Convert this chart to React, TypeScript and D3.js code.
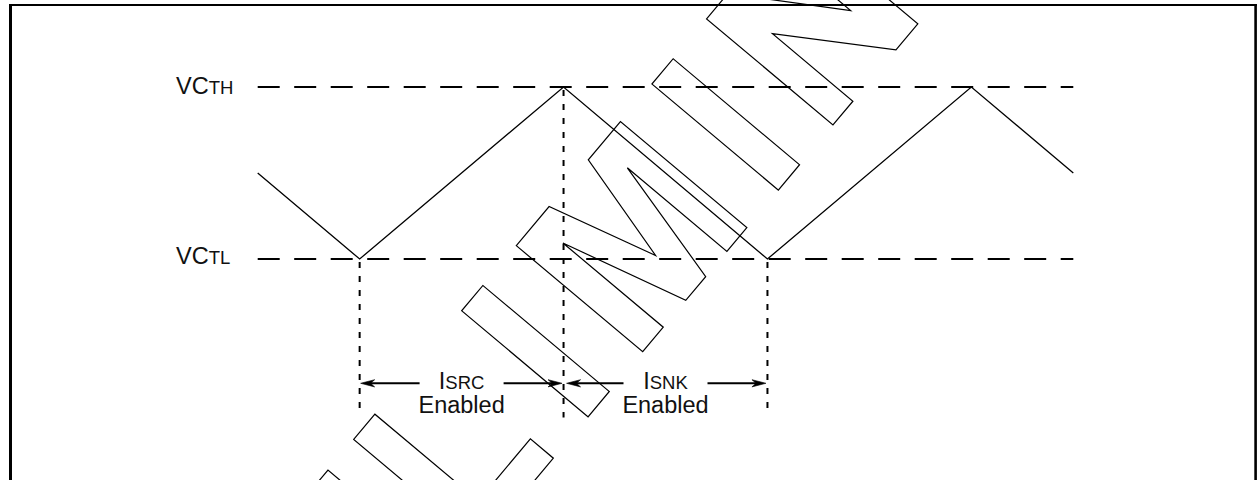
import React from 'react';
import * as d3 from 'd3';

const W = 1258;
const H = 480;

// Waveform (capacitor voltage, normalised: 0 = VCTL, 1 = VCTH)
const timePoints = [0, 0.5, 1.5, 2.5, 3.5, 4];
const capVoltage = [0.5, 0, 1, 0, 1, 0.5];

// Threshold lines
const thresholdLevels = [1, 0];
const thresholdMain = ['VC', 'VC'];
const thresholdSub = ['TH', 'TL'];

// Switching instants and phase annotations
const switchTimes = [0.5, 1.5, 2.5];
const phaseMain = ['I', 'I'];
const phaseSub = ['SRC', 'SNK'];
const phaseNote = ['Enabled', 'Enabled'];

// Watermark
const watermarkText = 'PRELIMINARY';
const watermarkIndexOfM = 5;

// Block outline font for the watermark (x, height) in glyph units; cap height 165
const glyphs: Record<string, { adv: number; rings: number[][][] }> = {
  P: {
    adv: 175,
    rings: [
      [[0, 0], [33, 0], [33, 65], [95, 65], [125, 95], [125, 135], [95, 165], [0, 165]],
      [[33, 95], [85, 95], [92, 102], [92, 128], [85, 135], [33, 135]],
    ],
  },
  R: {
    adv: 180,
    rings: [
      [[0, 0], [33, 0], [33, 65], [70, 65], [100, 0], [135, 0], [103, 70], [125, 95], [125, 135], [95, 165], [0, 165]],
      [[33, 95], [85, 95], [92, 102], [92, 128], [85, 135], [33, 135]],
    ],
  },
  E: {
    adv: 152,
    rings: [
      [[0, 0], [112, 0], [112, 30], [33, 30], [33, 68], [100, 68], [100, 98], [33, 98], [33, 135], [112, 135], [112, 165], [0, 165]],
    ],
  },
  L: {
    adv: 168,
    rings: [[[0, 0], [114, 0], [114, 30], [33, 30], [33, 165], [0, 165]]],
  },
  I: {
    adv: 85,
    rings: [[[0, 0], [33, 0], [33, 165], [0, 165]]],
  },
  M: {
    adv: 211,
    rings: [
      [[0, 165], [0, 0], [32, 0], [32, 131], [67, 0], [98, 0], [131, 130], [131, 0], [162, 0], [162, 165], [112, 165], [82, 52], [51, 165]],
    ],
  },
  N: {
    adv: 180,
    rings: [[[0, 0], [31, 0], [31, 105], [98, 0], [132, 0], [132, 165], [99, 165], [99, 60], [33, 165], [0, 165]]],
  },
  A: {
    adv: 210,
    rings: [
      [[0, 0], [35, 0], [47, 35], [113, 35], [125, 0], [160, 0], [100, 165], [60, 165]],
      [[57, 65], [103, 65], [80, 130]],
    ],
  },
  Y: {
    adv: 160,
    rings: [[[0, 165], [38, 165], [75, 100], [112, 165], [150, 165], [92, 65], [92, 0], [58, 0], [58, 65]]],
  },
};

const FONT = '"Liberation Sans", Arial, Helvetica, sans-serif';

function Arrow({ from, to, y }: { from: number; to: number; y: number }) {
  const dir = Math.sign(to - from);
  const headLen = 14;
  const half = 3.6;
  const base = to - dir * headLen;
  return (
    <g>
      <line x1={from} y1={y} x2={to - dir * 8} y2={y} stroke="#000" strokeWidth={2} />
      <path
        d={`M${to},${y} L${base},${y - half} L${to - dir * 10},${y} L${base},${y + half} Z`}
        fill="#000"
        stroke="#000"
        strokeWidth={0.6}
      />
    </g>
  );
}

export default function App() {
  const x = d3.scaleLinear().domain([0, 4]).range([257.7, 1073.3]);
  const y = d3.scaleLinear().domain([0, 1]).range([259, 87]);

  const line = d3
    .line<number>()
    .x((_, i) => x(timePoints[i]))
    .y((d) => y(d));

  const arrowY = 383.3;
  const labelHalfGap = 42;

  // Watermark layout
  const chars = watermarkText.split('');
  const starts: number[] = [];
  let acc = 0;
  chars.forEach((c, i) => {
    starts.push(acc);
    acc += glyphs[c].adv;
  });
  const offsetM = starts[watermarkIndexOfM];
  const ringPath = (rings: number[][][]) =>
    rings.map((r) => 'M' + r.map(([px, pt]) => `${px},${-pt}`).join('L') + 'Z').join('');

  return (
    <svg
      width={W}
      height={H}
      viewBox={`0 0 ${W} ${H}`}
      style={{ position: 'absolute', left: 0, top: 0, display: 'block', background: '#fff' }}
    >
      <rect x={0} y={0} width={W} height={H} fill="#fff" />

      {/* Frame (open at the bottom) */}
      <line x1={10.5} y1={4} x2={10.5} y2={H + 5} stroke="#000" strokeWidth={3} />
      <line x1={9} y1={5} x2={1256.8} y2={5} stroke="#000" strokeWidth={2} />
      <line x1={1255.6} y1={4} x2={1255.6} y2={H + 5} stroke="#000" strokeWidth={2.6} />

      {/* Threshold lines */}
      {thresholdLevels.map((lv, i) => (
        <g key={'th' + i}>
          <line
            x1={x(0)}
            x2={x(4)}
            y1={y(lv)}
            y2={y(lv)}
            stroke="#000"
            strokeWidth={2}
            strokeDasharray="22 14.5"
          />
          <text
            x={176}
            y={y(lv) + (lv === 1 ? 7.3 : 5)}
            fontFamily={FONT}
            fill="#111"
          >
            <tspan fontSize={23.5}>{thresholdMain[i]}</tspan>
            <tspan fontSize={18.5}>{thresholdSub[i]}</tspan>
          </text>
        </g>
      ))}

      {/* Vertical dotted markers */}
      {switchTimes.map((t, i) => {
        const v = capVoltage[timePoints.indexOf(t)];
        return (
          <line
            key={'sw' + i}
            x1={x(t)}
            x2={x(t)}
            y1={y(v)}
            y2={i === 1 ? 417.5 : 408.5}
            stroke="#000"
            strokeWidth={2}
            strokeDasharray="6 8"
            strokeDashoffset={-3}
          />
        );
      })}

      {/* Waveform */}
      <path d={line(capVoltage) || ''} fill="none" stroke="#000" strokeWidth={1.3} />

      {/* Phase annotations */}
      {phaseMain.map((m, i) => {
        const a = x(switchTimes[i]);
        const b = x(switchTimes[i + 1]);
        const c = (a + b) / 2;
        return (
          <g key={'ph' + i}>
            <Arrow from={c - labelHalfGap} to={a + (i === 0 ? 1 : 3)} y={arrowY} />
            <Arrow from={c + labelHalfGap} to={b - (i === 0 ? 1.5 : 1.5)} y={arrowY} />
            <text x={c} y={388.5} textAnchor="middle" fontFamily={FONT} fill="#111">
              <tspan fontSize={23.5}>{m}</tspan>
              <tspan fontSize={18.5}>{phaseSub[i]}</tspan>
            </text>
            <text x={c} y={412.5} textAnchor="middle" fontFamily={FONT} fontSize={23.5} fill="#111">
              {phaseNote[i]}
            </text>
          </g>
        );
      })}

      {/* Watermark */}
      <g transform="translate(642.7,351.7) rotate(-50)" fill="none" stroke="#000" strokeWidth={1.2}>
        {chars.map((c, i) => (
          <path key={'wm' + i} transform={`translate(${starts[i] - offsetM},0)`} d={ringPath(glyphs[c].rings)} />
        ))}
      </g>
    </svg>
  );
}
